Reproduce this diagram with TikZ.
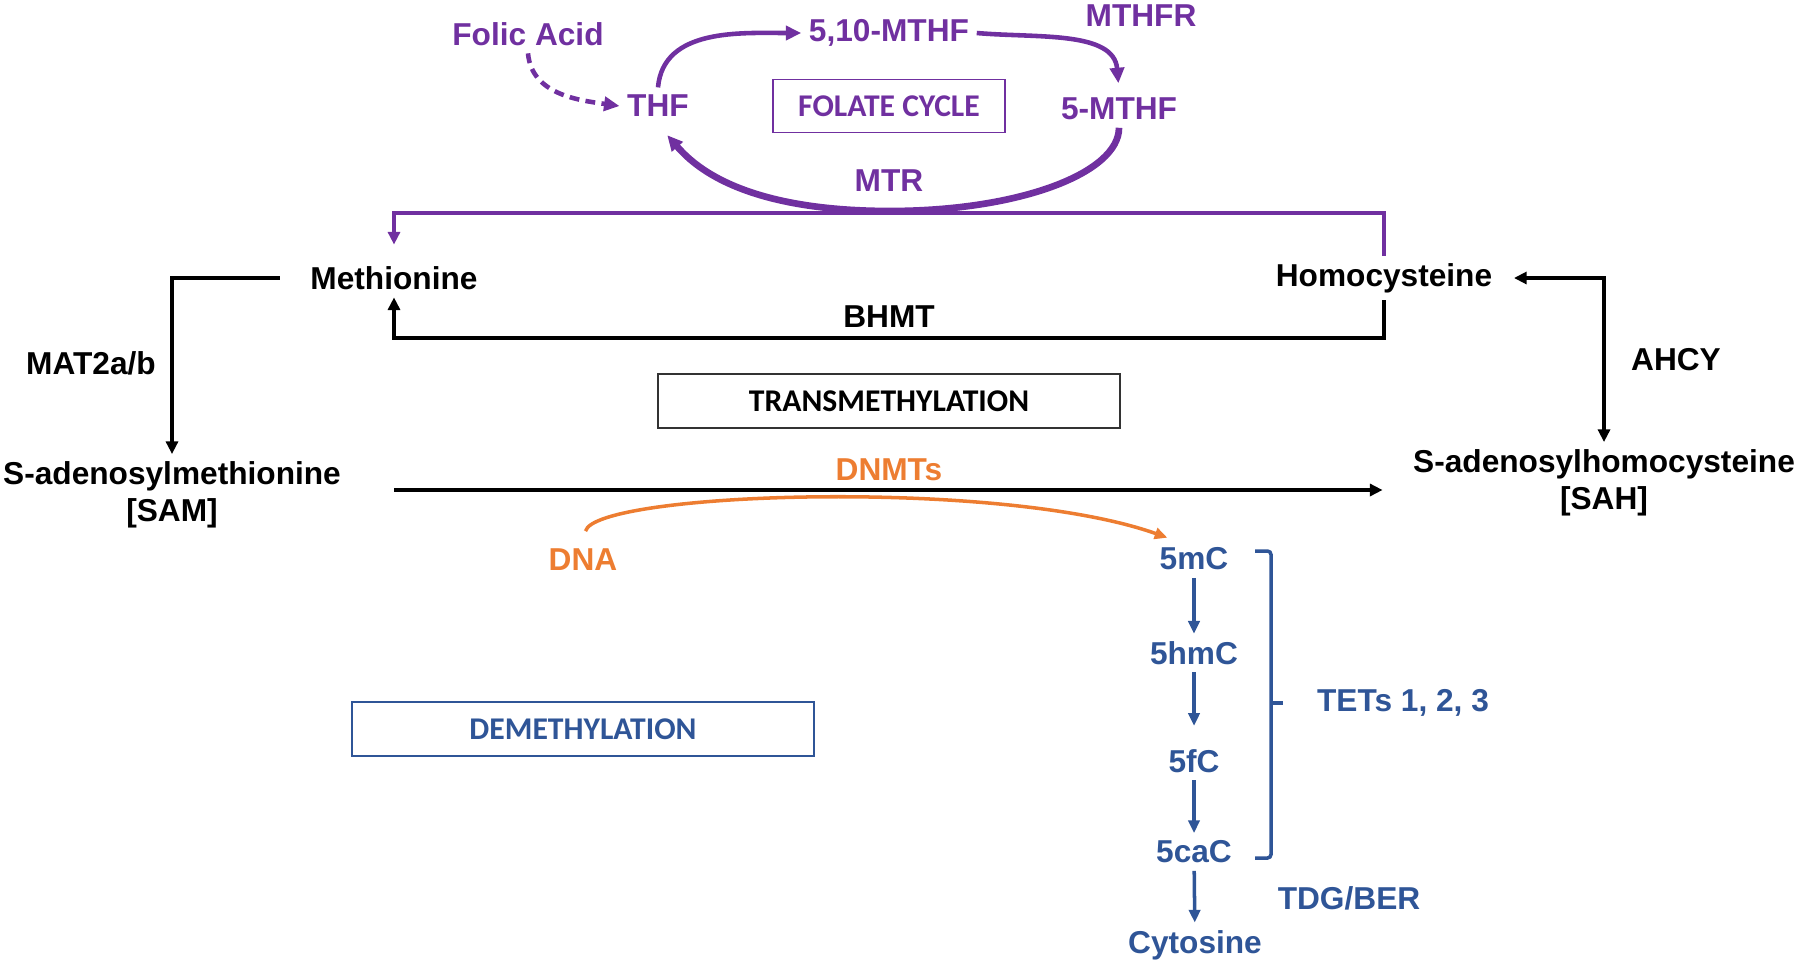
\documentclass[tikz,border=0pt]{standalone}
\usepackage{fontspec}
\setmainfont{Liberation Sans}
\newfontfamily\boxfont{Carlito}
\usepackage{tikz}
\usetikzlibrary{arrows.meta}
\definecolor{folpurple}{RGB}{112,48,160}
\definecolor{dnmtorange}{RGB}{237,125,49}
\definecolor{tetblue}{RGB}{47,85,151}
\tikzstyle{metab}=[inner sep=2pt, align=center, font=\fontsize{9}{10.5}\selectfont\bfseries]
\tikzstyle{folnode}=[metab, text=folpurple]
\tikzstyle{dnanode}=[metab, text=dnmtorange]
\tikzstyle{epinode}=[metab, text=tetblue]
\tikzstyle{labelbox}=[rectangle, draw, line width=0.5pt, inner sep=0pt, font=\boxfont\fontsize{9}{10.5}\selectfont\bfseries]
\tikzstyle{blkarrow}=[draw=black, line width=1.1pt, -{Triangle[length=3.6pt,width=3.4pt]}]
\tikzstyle{folarrow}=[draw=folpurple, line width=1.3pt, -{Triangle[length=4.4pt,width=4pt]}]
\tikzstyle{folline}=[draw=folpurple, line width=1.1pt, -{Triangle[length=3.6pt,width=3.4pt]}]
\tikzstyle{dnaarrow}=[draw=dnmtorange, line width=1pt, -{Triangle[length=3.6pt,width=3.2pt]}]
\tikzstyle{epiarrow}=[draw=tetblue, line width=1pt, -{Triangle[length=3.6pt,width=3.2pt]}]
\tikzstyle{epiline}=[draw=tetblue, line width=1pt, rounded corners=1pt]

\begin{document}
\begin{tikzpicture}[x=0.01cm,y=-0.01cm]
\useasboundingbox (0,0) rectangle (1800,963);

% folate cycle
\node[folnode](folic) at (528,34) {Folic Acid};
\node[folnode](mthf510) at (889,33) {5,10-MTHF};
\node[folnode](mthfr) at (1141,16) {MTHFR};
\node[folnode](thf) at (658,106) {THF};
\node[folnode](mthf5) at (1119,109) {5-MTHF};
\node[folnode](mtr) at (889,181) {MTR};
\node[labelbox, draw=folpurple, text=folpurple, minimum width=2.32cm, minimum height=0.53cm](folbox) at (889,106) {FOLATE CYCLE};
\coordinate (cyclelow) at (890,211);

\draw[folarrow, dashed, dash pattern=on 2.8pt off 1.8pt] (folic.south) to[out=-85,in=172] (thf.west);
\draw[folarrow] (thf.north) to[out=85,in=180] (mthf510.west);
\draw[folarrow, shorten >=2pt] (mthf510.east) to[out=-5,in=95] (mthf5.north);
\draw[folarrow, line width=1.9pt, shorten >=4pt] (mthf5.south) .. controls +(0,45) and +(130,0) .. (cyclelow) .. controls +(-150,0) and +(35,40) .. (thf.south);

% methionine cycle
\node[metab](met) at (394,278) {Methionine};
\node[metab](hcy) at (1384,278) {Homocysteine};
\node[metab](bhmt) at (889,317) {BHMT};
\node[metab](sam) at (172,495) {S-adenosylmethionine\\ {[SAM]}};
\node[metab](sah) at (1604,483) {S-adenosylhomocysteine\\ {[SAH]}};
\node[metab](mat) at (91,363) {MAT2a/b};
\node[metab](ahcy) at (1676,360) {AHCY};
\node[labelbox, draw=black!80, minimum width=4.61cm, minimum height=0.54cm](transbox) at (889,401) {TRANSMETHYLATION};
\coordinate (toplink) at (0,213);
\coordinate (botlink) at (0,338);
\coordinate (methlink) at (0,490);

\draw[folline, shorten >=4pt] (hcy.north) -- (hcy.north |- toplink) -| (met.north);
\draw[blkarrow] (hcy.south) -- (hcy.south |- botlink) -| (met.south);
\draw[blkarrow, shorten <=6.5pt] (met.west) -| (sam.north);
\draw[blkarrow, shorten <=13pt, shorten >=6.5pt] (sam.east |- methlink) -- (sah.west |- methlink);
\draw[blkarrow, {Triangle[length=3.6pt,width=3.4pt]}-{Triangle[length=3.6pt,width=3.4pt]}, shorten >=4pt] (sah.north) |- (hcy.east);

% dna methylation / demethylation
\node[dnanode](dnmts) at (889,470) {DNMTs};
\node[dnanode](dna) at (583,560) {DNA};
\node[epinode](mc5) at (1194,559) {5mC};
\node[epinode](hmc5) at (1194,653) {5hmC};
\node[epinode](fc5) at (1194,761) {5fC};
\node[epinode](cac5) at (1194,852) {5caC};
\node[epinode](cyt) at (1195,945) {Cytosine};
\node[epinode](tets) at (1403,703) {TETs 1, 2, 3};
\node[epinode](tdg) at (1349,898) {TDG/BER};
\node[labelbox, draw=tetblue, text=tetblue, minimum width=4.61cm, minimum height=0.54cm](demethbox) at (583,729) {DEMETHYLATION};
\coordinate (brtop) at (1271,551);
\coordinate (brbot) at (1271,858);

\draw[dnaarrow, shorten <=3pt, shorten >=2pt] (dna.north) .. controls (595,492) and (1000,478) .. ([xshift=-0.2cm]mc5.north);
\draw[epiarrow] (mc5) -- (hmc5);
\draw[epiarrow, shorten >=4.5pt] (hmc5) -- (fc5);
\draw[epiarrow] (fc5) -- (cac5);
\draw[epiarrow] (cac5) -- (cyt);
\draw[epiline] ([xshift=-0.16cm]brtop) -- (brtop) -- (brbot) -- ([xshift=-0.16cm]brbot);
\draw[epiline] (brtop |- tets) -- ++(12,0);

\end{tikzpicture}
\end{document}
